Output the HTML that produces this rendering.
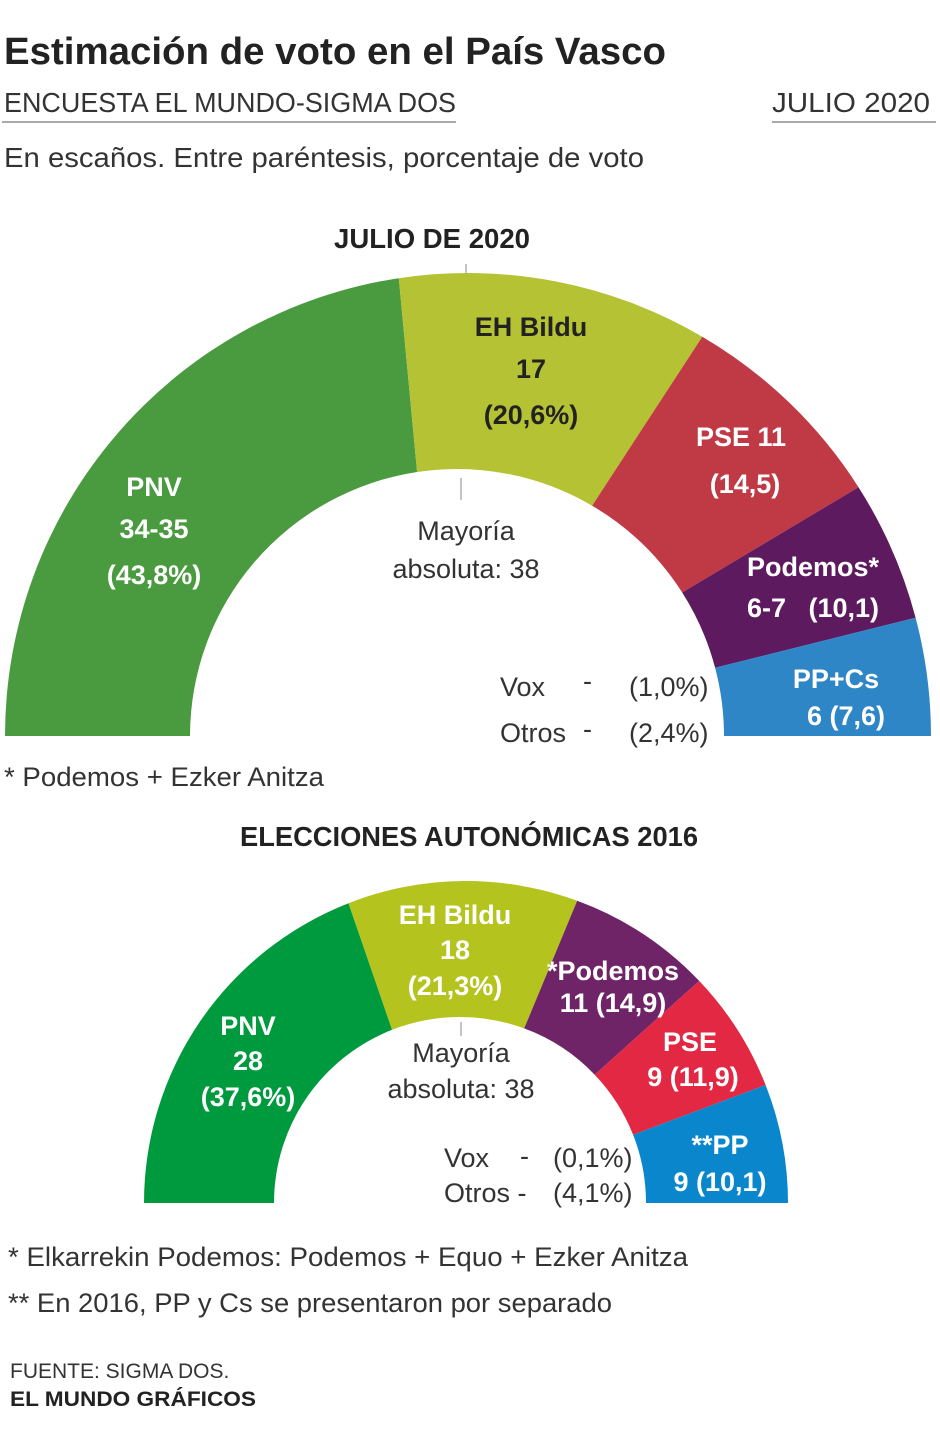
<!DOCTYPE html>
<html><head><meta charset="utf-8"><style>body{margin:0;background:#fff}svg{display:block}text{font-family:"Liberation Sans",sans-serif}</style></head><body>
<svg width="940" height="1434" viewBox="0 0 940 1434" xmlns="http://www.w3.org/2000/svg">
<text x="4" y="64" font-size="38" font-weight="bold" fill="#222" textLength="662" lengthAdjust="spacingAndGlyphs">Estimación de voto en el País Vasco</text>
<text x="4" y="112" font-size="28" fill="#333" textLength="452" lengthAdjust="spacingAndGlyphs">ENCUESTA EL MUNDO-SIGMA DOS</text>
<line x1="2" y1="122" x2="456" y2="122" stroke="#aaa" stroke-width="2"/>
<text x="772" y="112" font-size="28" fill="#333" textLength="158" lengthAdjust="spacingAndGlyphs">JULIO  2020</text>
<line x1="772" y1="122" x2="936" y2="122" stroke="#aaa" stroke-width="2"/>
<text x="4" y="167" font-size="28" fill="#333" textLength="640" lengthAdjust="spacingAndGlyphs">En escaños. Entre paréntesis, porcentaje de voto</text>
<text x="432" y="248" font-size="28" font-weight="bold" fill="#222" text-anchor="middle" textLength="196" lengthAdjust="spacingAndGlyphs">JULIO DE 2020</text>
<line x1="466" y1="264" x2="466" y2="274" stroke="#888"/>
<g id="top"></g>
<line x1="461" y1="478" x2="461" y2="500" stroke="#888"/>
<g font-weight="bold" fill="#fff" font-size="27" text-anchor="middle">
<text x="154" y="496">PNV</text><text x="154" y="538">34-35</text><text x="154" y="584">(43,8%)</text>
<text x="531" y="336" fill="#222">EH Bildu</text><text x="531" y="378" fill="#222">17</text><text x="531" y="424" fill="#222">(20,6%)</text>
<text x="741" y="446">PSE 11</text><text x="745" y="493">(14,5)</text>
<text x="813" y="576">Podemos*</text><text x="813" y="617" xml:space="preserve">6-7   (10,1)</text>
<text x="836" y="688">PP+Cs</text><text x="846" y="725">6 (7,6)</text>
</g>
<g fill="#333" font-size="27">
<text x="466" y="540" text-anchor="middle">Mayoría</text><text x="466" y="578" text-anchor="middle">absoluta: 38</text>
<text x="500" y="696">Vox</text><text x="583" y="690">-</text><text x="629" y="696">(1,0%)</text>
<text x="500" y="742">Otros</text><text x="583" y="738">-</text><text x="629" y="742">(2,4%)</text>
<text x="4" y="786" textLength="320" lengthAdjust="spacingAndGlyphs">* Podemos + Ezker Anitza</text>
</g>
<text x="469" y="846" font-size="28" font-weight="bold" fill="#222" text-anchor="middle" textLength="458" lengthAdjust="spacingAndGlyphs">ELECCIONES AUTONÓMICAS 2016</text>
<g id="bot"></g>
<line x1="461" y1="1022" x2="461" y2="1036" stroke="#888"/>
<g font-weight="bold" fill="#fff" font-size="27" text-anchor="middle">
<text x="248" y="1035">PNV</text><text x="248" y="1070">28</text><text x="248" y="1106">(37,6%)</text>
<text x="455" y="924">EH Bildu</text><text x="455" y="959">18</text><text x="455" y="995">(21,3%)</text>
<text x="613" y="980">*Podemos</text><text x="613" y="1012">11 (14,9)</text>
<text x="690" y="1051">PSE</text><text x="693" y="1086">9 (11,9)</text>
<text x="720" y="1154">**PP</text><text x="720" y="1191">9 (10,1)</text>
</g>
<g fill="#333" font-size="27">
<text x="461" y="1062" text-anchor="middle">Mayoría</text><text x="461" y="1098" text-anchor="middle">absoluta: 38</text>
<text x="444" y="1167">Vox</text><text x="520" y="1165">-</text><text x="553" y="1167">(0,1%)</text>
<text x="444" y="1202">Otros -</text><text x="553" y="1202">(4,1%)</text>
<text x="8" y="1266" textLength="680" lengthAdjust="spacingAndGlyphs">* Elkarrekin Podemos: Podemos + Equo +  Ezker Anitza</text>
<text x="8" y="1312" textLength="604" lengthAdjust="spacingAndGlyphs">** En 2016, PP y Cs se presentaron por separado</text>
</g>
<text x="10" y="1378" font-size="21" fill="#333">FUENTE: SIGMA DOS.</text>
<text x="10" y="1406" font-size="21" font-weight="bold" fill="#222" textLength="246" lengthAdjust="spacingAndGlyphs">EL MUNDO GRÁFICOS</text>
<script>
function seg(g,cx,cy,R,icx,r,a1,a2,c){var d=Math.PI/180;function p(x,rr,a){return (x+rr*Math.cos(a*d)).toFixed(1)+","+(cy-rr*Math.sin(a*d)).toFixed(1)}
var s="M"+p(cx,R,a1)+"A"+R+","+R+" 0 0 1 "+p(cx,R,a2)+"L"+p(icx,r,a2)+"A"+r+","+r+" 0 0 0 "+p(icx,r,a1)+"Z";
var e=document.createElementNS("http://www.w3.org/2000/svg","path");e.setAttribute("d",s);e.setAttribute("fill",c);document.getElementById(g).appendChild(e);}
var t=[[180,98.6,"#4a9a3f"],[98.6,59.6,"#b5c234"],[59.6,32.5,"#c03a46"],[32.5,14.8,"#5e1a5e"],[14.8,0,"#2e86c6"]];
t.forEach(function(a){seg("top",468,736,463,457,267,a[0],a[1],a[2])});
var b=[[180,111.4,"#009a3e"],[111.4,69.8,"#b4c31d"],[69.8,43.6,"#6e2466"],[43.6,21.5,"#e32843"],[21.5,0,"#0a87cc"]];
b.forEach(function(a){seg("bot",466,1203,322,460,186,a[0],a[1],a[2])});
</script>
</svg>
</body></html>
